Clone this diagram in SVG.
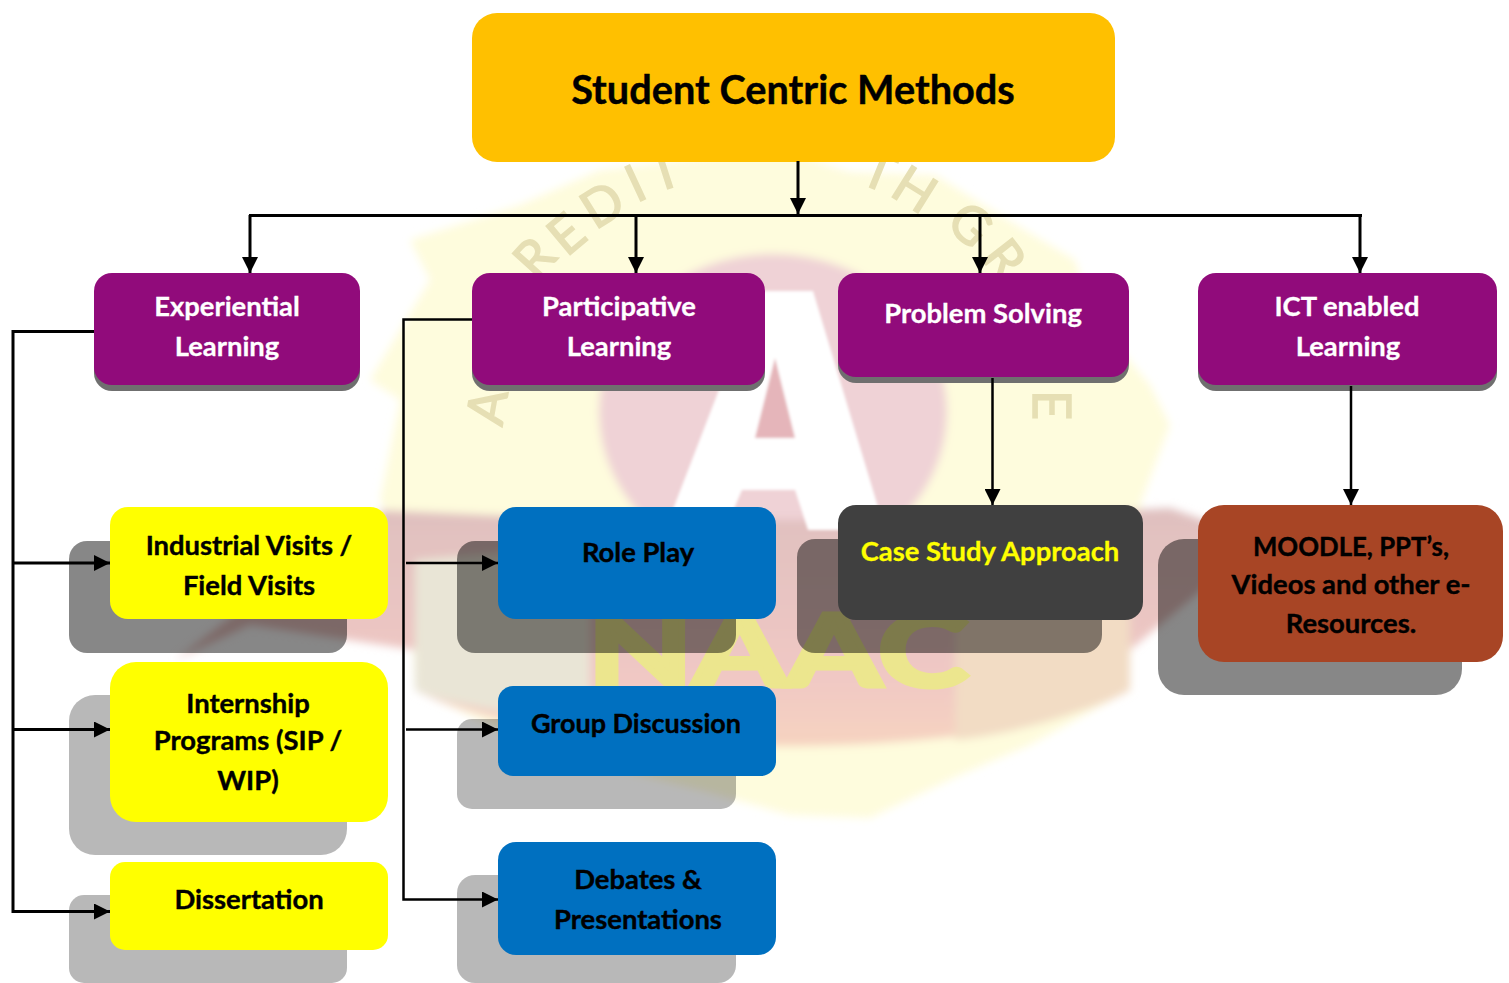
<svg xmlns="http://www.w3.org/2000/svg" width="1509" height="983" viewBox="0 0 1509 983">
<defs>
<marker id="ah" markerUnits="userSpaceOnUse" markerWidth="16" markerHeight="16" refX="16" refY="8" orient="auto"><path d="M0,0 L16,8 L0,16 Z" fill="#000"/></marker>
<linearGradient id="band" x1="0" y1="0" x2="0" y2="1"><stop offset="0" stop-color="#dfc0bf"/><stop offset=".7" stop-color="#f0c8c4"/><stop offset="1" stop-color="#f6d3c0"/></linearGradient>
<filter id="soft" x="-5%" y="-5%" width="110%" height="110%"><feGaussianBlur stdDeviation="4"/></filter>
<filter id="soft2" x="-5%" y="-5%" width="110%" height="110%"><feGaussianBlur stdDeviation="1.500"/></filter>
</defs>
<style>
text{font-family:Lato,"Liberation Sans",sans-serif;font-weight:700;font-size:27.4px;text-anchor:middle}
.w{fill:#fff;stroke:#fff;stroke-width:.3}.k{fill:#000;stroke:#000;stroke-width:.4}.y{fill:#ffff00;stroke:#ffff00;stroke-width:.3}
.sh{fill:#000;fill-opacity:.28}.sd{fill:#000;fill-opacity:.47}
.con{fill:none;stroke:#000;stroke-width:3}.th{stroke-width:2.500}
.purple{fill:#910b7b}.pshadow{fill:#6f6f6f}
.yel{fill:#ffff00}.blue{fill:#0070c0}
.wm{font-size:52px;font-weight:400;fill:#e6dfb4;stroke:#e6dfb4;stroke-width:1.500}
</style>
<rect width="1509" height="983" fill="#fff"/>
<g id="watermark">
<g filter="url(#soft)">
<path d="M780,150 L850,172 L935,175 L1000,215 L1075,260 L1095,320 L1150,385 L1170,425 L1140,505 L1165,560 L1130,640 L1130,690 L1030,745 L960,775 L870,818 L790,815 L700,790 L600,765 L500,730 L415,690 L410,560 L380,500 L400,400 L370,380 L430,280 L410,240 L520,205 L600,170 Z" fill="#fefcdd"/>
<ellipse cx="773" cy="412" rx="174" ry="158" fill="#efd2d6"/>
<path d="M380,510 L600,520 L950,520 L1170,508 L1260,540 L1190,600 L1130,650 L1130,690 C1000,765 560,765 415,690 L415,650 L250,625 L175,660 L240,610 L380,560 Z" fill="url(#band)"/>
<path d="M415,560 L590,545 L590,725 C520,715 450,705 415,690 Z" fill="#e9e5d6"/>
<path d="M955,545 L1130,560 L1130,690 C1080,715 1010,735 955,740 Z" fill="#f2dcc4"/>
</g>
<g filter="url(#soft2)">
<path d="M757,291 L813,291 L885,530 L808,530 L795,490 L742,490 L725,530 L665,530 Z" fill="#fff"/>
<path d="M775,358 L795,438 L755,438 Z" fill="#e5b5ba"/>
</g>
<text x="778" y="686" style="font-size:100px;font-weight:700;fill:#ece68e;stroke:#ece68e;stroke-width:5" textLength="380" lengthAdjust="spacingAndGlyphs">NAAC</text>
<g>
<text class="wm" transform="translate(548,270) rotate(-48)">R</text>
<text class="wm" transform="translate(578,248) rotate(-40)">E</text>
<text class="wm" transform="translate(612,220) rotate(-32)">D</text>
<text class="wm" transform="translate(643,200) rotate(-25)">I</text>
<text class="wm" transform="translate(670,188) rotate(-18)">T</text>
<text class="wm" transform="translate(872,188) rotate(22)">T</text>
<text class="wm" transform="translate(905,205) rotate(32)">H</text>
<text class="wm" transform="translate(958,238) rotate(42)">G</text>
<text class="wm" transform="translate(990,270) rotate(52)">R</text>
<text class="wm" transform="translate(1033,405) rotate(90)">E</text>
<text class="wm" transform="translate(505,410) rotate(-80)">A</text>
</g>
</g>
<g id="node-root"><rect x="472" y="13" width="643" height="149" rx="25" fill="#ffc000"/><text x="793" y="104" style="font-size:39.700px" class="k">Student Centric Methods</text></g>
<g id="node-experiential"><rect class="pshadow" x="94" y="279" width="266" height="112" rx="18"/><rect class="purple" x="94" y="273" width="266" height="112" rx="18"/><text class="w" x="227" y="316">Experiential</text><text class="w" x="227" y="356">Learning</text></g>
<g id="node-participative"><rect class="pshadow" x="472" y="279" width="293" height="112" rx="18"/><rect class="purple" x="472" y="273" width="293" height="112" rx="18"/><text class="w" x="619" y="316">Participative</text><text class="w" x="619" y="356">Learning</text></g>
<g id="node-problem"><rect class="pshadow" x="838" y="279" width="291" height="104" rx="18"/><rect class="purple" x="838" y="273" width="291" height="104" rx="18"/><text class="w" x="983" y="323">Problem Solving</text></g>
<g id="node-ict"><rect class="pshadow" x="1198" y="279" width="299" height="112" rx="18"/><rect class="purple" x="1198" y="273" width="299" height="112" rx="18"/><text class="w" x="1347" y="316">ICT enabled</text><text class="w" x="1348" y="356">Learning</text></g>
<g id="node-industrial"><rect class="sd" x="69" y="541" width="278" height="112" rx="18"/><rect class="yel" x="110" y="507" width="278" height="112" rx="18"/><text class="k" x="249" y="555">Industrial Visits /</text><text class="k" x="249" y="595">Field Visits</text></g>
<g id="node-internship"><rect class="sh" x="69" y="695" width="278" height="160" rx="26"/><rect class="yel" x="110" y="662" width="278" height="160" rx="26"/><text class="k" x="248" y="713">Internship</text><text class="k" x="248" y="750">Programs (SIP /</text><text class="k" x="248" y="790">WIP)</text></g>
<g id="node-dissertation"><rect class="sh" x="69" y="895" width="278" height="88" rx="15"/><rect class="yel" x="110" y="862" width="278" height="88" rx="15"/><text class="k" x="249" y="909">Dissertation</text></g>
<g id="node-roleplay"><rect class="sd" x="457" y="541" width="279" height="112" rx="18"/><rect class="blue" x="498" y="507" width="278" height="112" rx="18"/><text class="k" x="638" y="562">Role Play</text></g>
<g id="node-group"><rect class="sh" x="457" y="719" width="279" height="90" rx="15"/><rect class="blue" x="498" y="686" width="278" height="90" rx="15"/><text class="k" x="636" y="733" textLength="210" lengthAdjust="spacingAndGlyphs">Group Discussion</text></g>
<g id="node-debates"><rect class="sh" x="457" y="875" width="279" height="108" rx="18"/><rect class="blue" x="498" y="842" width="278" height="113" rx="18"/><text class="k" x="638" y="889">Debates &amp;</text><text class="k" x="638" y="929">Presentations</text></g>
<g id="node-case"><rect class="sd" x="797" y="539" width="305" height="114" rx="18"/><rect x="838" y="505" width="305" height="115" rx="18" fill="#404040"/><text class="y" x="990" y="561">Case Study Approach</text></g>
<g id="node-moodle"><rect class="sd" x="1158" y="539" width="304" height="156" rx="26"/><rect x="1198" y="505" width="305" height="157" rx="26" fill="#a84525"/><text class="k" x="1351" y="556" textLength="196" lengthAdjust="spacingAndGlyphs">MOODLE, PPT’s,</text><text class="k" x="1351" y="594">Videos and other e-</text><text class="k" x="1351" y="633">Resources.</text></g>
<g id="connectors">
<path class="con" d="M798,161 V214" marker-end="url(#ah)"/>
<path class="con" d="M249,215.500 H1362"/>
<path class="con" d="M250,215 V273" marker-end="url(#ah)"/>
<path class="con" d="M636,215 V273" marker-end="url(#ah)"/>
<path class="con" d="M980,215 V273" marker-end="url(#ah)"/>
<path class="con" d="M1360,215 V273" marker-end="url(#ah)"/>
<path class="con" d="M94,331.500 H13 V911.500 H110" marker-end="url(#ah)"/>
<path class="con" d="M13,563 H110" marker-end="url(#ah)"/>
<path class="con" d="M13,729.500 H110" marker-end="url(#ah)"/>
<path class="con th" d="M472,319.500 H403.500 V899.500 H498" marker-end="url(#ah)"/>
<path class="con th" d="M406,563 H498" marker-end="url(#ah)"/>
<path class="con th" d="M406,729.500 H498" marker-end="url(#ah)"/>
<path class="con th" d="M992.500,378 V505" marker-end="url(#ah)"/>
<path class="con th" d="M1351,386 V505" marker-end="url(#ah)"/>
</g>
</svg>
